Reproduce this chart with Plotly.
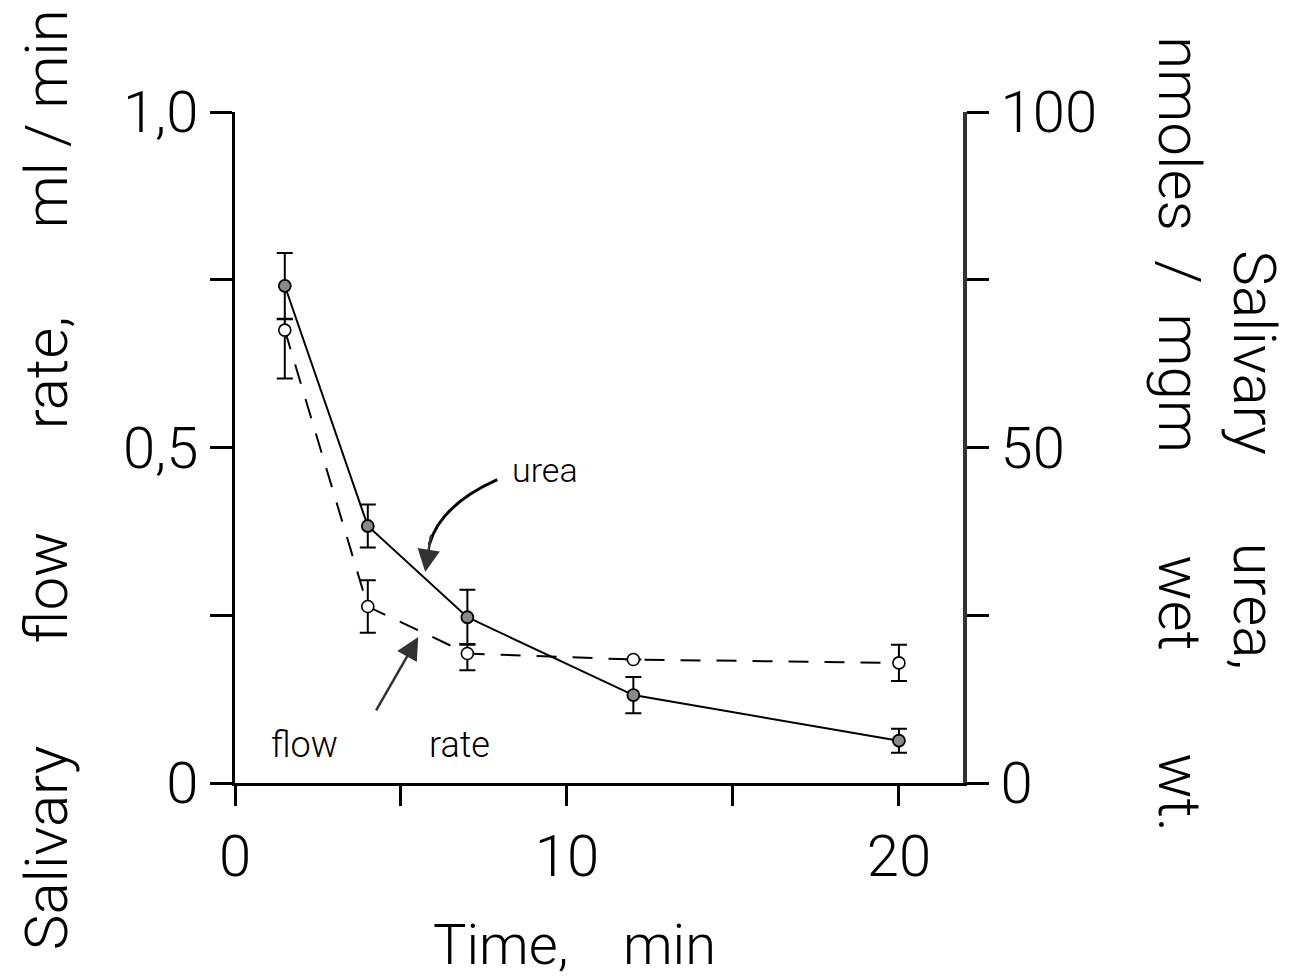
import plotly.graph_objects as go

# Data
time_min = [1.5, 4, 7, 12, 20]
urea = [74.1, 38.3, 24.7, 13.1, 6.3]          # nmoles / mgm wet wt (right axis)
urea_err = [4.9, 3.2, 4.1, 2.7, 1.8]
flow = [0.675, 0.263, 0.193, 0.184, 0.179]     # ml/min (left axis)
flow_err_plus = [0.016, 0.039, 0.014, 0.0, 0.027]
flow_err_minus = [0.072, 0.039, 0.025, 0.0, 0.027]

x_ticks = [0, 5, 10, 15, 20]
x_ticktext = ["0", "", "10", "", "20"]
yl_ticks = [0, 0.25, 0.5, 0.75, 1.0]
yl_ticktext = ["0", "", "0,5", "", "1,0"]
yr_ticks = [0, 25, 50, 75, 100]
yr_ticktext = ["0", "", "50", "", "100"]

FONT = "Roboto"
fw = 300

fig = go.Figure()

fig.add_trace(go.Scatter(
    x=time_min, y=flow, mode="lines+markers",
    line=dict(color="black", width=2, dash="20px,16px"),
    marker=dict(symbol="circle", size=12, color="white", line=dict(color="black", width=1.6)),
    error_y=dict(type="data", symmetric=False, array=flow_err_plus, arrayminus=flow_err_minus,
                 color="black", thickness=2, width=8),
    yaxis="y", showlegend=False,
))

fig.add_trace(go.Scatter(
    x=time_min, y=urea, mode="lines+markers",
    line=dict(color="black", width=2),
    marker=dict(symbol="circle", size=12, color="#8a8a8a", line=dict(color="black", width=1.8)),
    error_y=dict(type="data", array=urea_err, color="black", thickness=2, width=8),
    yaxis="y2", showlegend=False,
))

# Curved arrow for "urea" label
fig.add_shape(type="path", xref="x", yref="y",
              path="M 7.90,0.452 Q 6.18,0.414 5.85,0.355",
              line=dict(color="black", width=3))
fig.add_annotation(x=5.73, y=0.3145, xref="x", yref="y", ax=6, ay=-38,
                   showarrow=True, arrowhead=2, arrowsize=1.8, arrowwidth=2.5,
                   arrowcolor="#333", text="")
# Arrow for "flow rate" label
fig.add_annotation(x=5.52, y=0.2176, xref="x", yref="y", ax=-43, ay=75,
                   showarrow=True, arrowhead=2, arrowsize=1.8, arrowwidth=2.5,
                   arrowcolor="#333", text="")

fig.add_annotation(x=9.35, y=0.466, xref="x", yref="y", text="urea", showarrow=False,
                   xanchor="center", yanchor="middle",
                   font=dict(family=FONT, size=34, color="black", weight=fw))
fig.add_annotation(x=2.08, y=0.057, xref="x", yref="y", text="flow", showarrow=False,
                   xanchor="center", yanchor="middle",
                   font=dict(family=FONT, size=36, color="black", weight=fw))
fig.add_annotation(x=6.76, y=0.057, xref="x", yref="y", text="rate", showarrow=False,
                   xanchor="center", yanchor="middle",
                   font=dict(family=FONT, size=36, color="black", weight=fw))

# Axis titles as annotations
def gap(n):
    return "\u00a0" * n

TS = 60
fig.add_annotation(x=-0.258, y=0.4516, xref="paper", yref="paper", textangle=-90,
                   xanchor="center", yanchor="middle",
                   text=f"Salivary{gap(7)}flow{gap(7)}rate,{gap(6)}ml{gap(1)}/{gap(1)}min", showarrow=False,
                   font=dict(family=FONT, size=TS, color="black", weight=fw))
fig.add_annotation(x=1.401, y=0.481, xref="paper", yref="paper", textangle=90,
                   xanchor="center", yanchor="middle",
                   text=f"Salivary{gap(6)}urea,", showarrow=False,
                   font=dict(family=FONT, size=TS, color="black", weight=fw))
fig.add_annotation(x=1.298, y=0.52, xref="paper", yref="paper", textangle=90,
                   xanchor="center", yanchor="middle",
                   text=f"nmoles{gap(2)}/{gap(2)}mgm{gap(7)}wet{gap(7)}wt.", showarrow=False,
                   font=dict(family=FONT, size=TS, color="black", weight=fw))
fig.add_annotation(x=0.467, y=-0.2414, xref="paper", yref="paper",
                   xanchor="center", yanchor="middle",
                   text=f"Time,{gap(4)}min", showarrow=False,
                   font=dict(family=FONT, size=56, color="black", weight=fw))

tickfont = dict(family=FONT, size=58, color="black", weight=fw)

fig.update_layout(
    width=1295, height=979,
    margin=dict(l=235, r=332, t=112, b=196),
    paper_bgcolor="white", plot_bgcolor="white",
    xaxis=dict(range=[0, 21.93], tickvals=x_ticks, ticktext=x_ticktext, ticks="outside",
               ticklen=20, tickwidth=2.5, tickcolor="black", showline=True, linecolor="black",
               linewidth=3, showgrid=False, zeroline=False, tickfont=tickfont),
    yaxis=dict(range=[0, 1.0], tickvals=yl_ticks, ticktext=yl_ticktext, ticks="outside",
               ticklen=22, tickwidth=2.5, tickcolor="black", showline=True, linecolor="black",
               linewidth=3, showgrid=False, zeroline=False, tickfont=tickfont),
    yaxis2=dict(range=[0, 100], tickvals=yr_ticks, ticktext=yr_ticktext, ticks="outside",
                ticklen=22, tickwidth=2.5, tickcolor="black", showline=True, linecolor="#333",
                linewidth=4, showgrid=False, zeroline=False, tickfont=tickfont,
                overlaying="y", side="right"),
)

fig.write_html("out.html")
